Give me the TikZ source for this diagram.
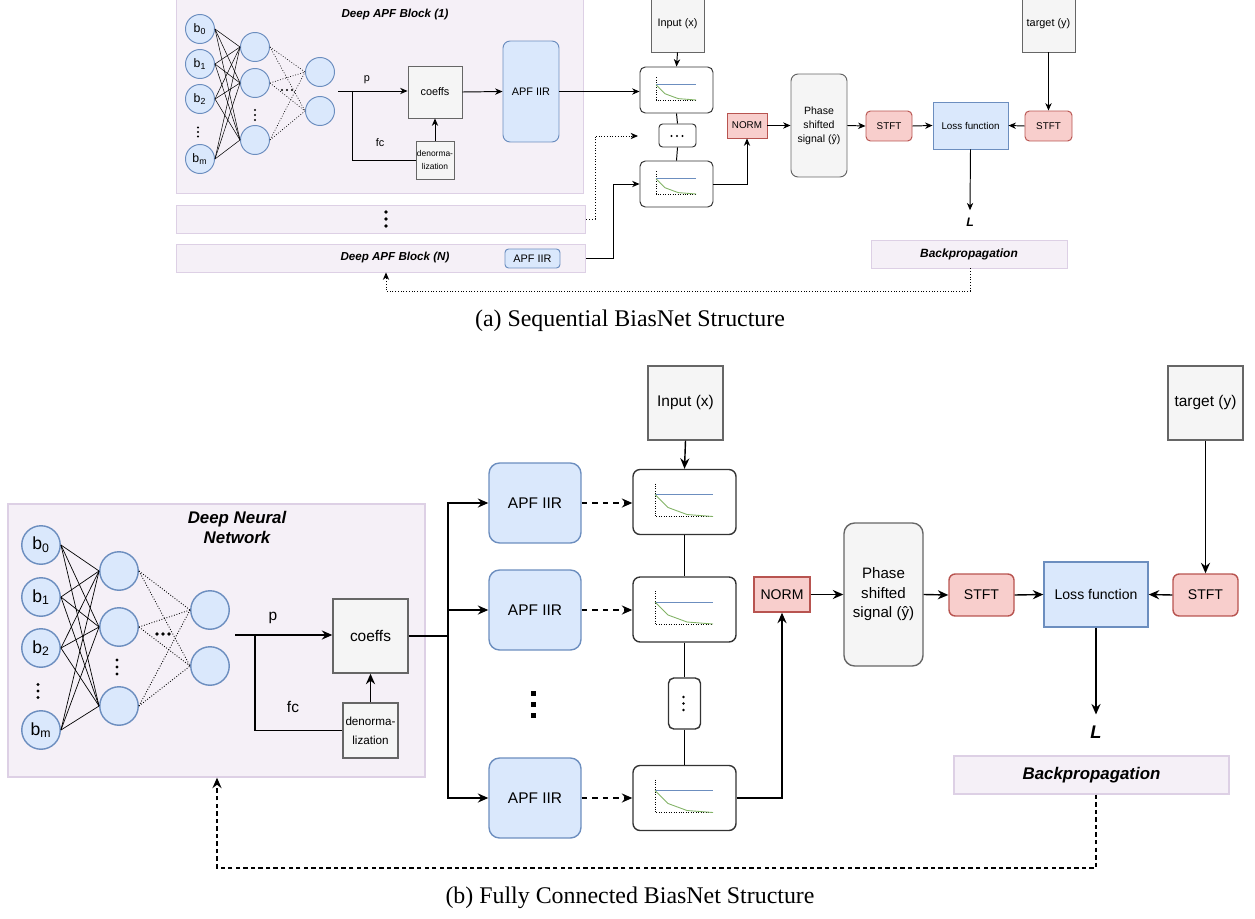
\documentclass[tikz,border=0pt]{standalone}
\usepackage{fontspec}
\setmainfont{Liberation Sans}
\newfontfamily\capfont{Liberation Serif}
\usetikzlibrary{arrows.meta}

\definecolor{blkfill}{HTML}{F5F0F7}
\definecolor{blkdraw}{HTML}{DDD0E5}
\definecolor{bluefill}{HTML}{DAE8FC}
\definecolor{bluedraw}{HTML}{6C8EBF}
\definecolor{redfill}{HTML}{F8CECC}
\definecolor{reddraw}{HTML}{B85450}
\definecolor{grayfill}{HTML}{F5F5F5}
\definecolor{graydraw}{HTML}{666666}
\definecolor{respdraw}{HTML}{333333}
\definecolor{greenline}{HTML}{82B366}

% little response sketch inside a filter box
\newcommand{\respplot}[2]{%
  \begin{scope}[shift={(#1.center)}, scale=#2]
    \draw[densely dotted, line width=0.4pt] (-29.5,-18.5) -- (-29.5,14.5) -- (28.5,14.5);
    \draw[bluedraw, line width=0.5pt] (-29.5,-7.5) -- (28.5,-7.5);
    \draw[greenline, line width=0.5pt] (-29.5,-7.5) -- (-16.5,5.5) -- (2.5,12.5) -- (28.5,14.5);
  \end{scope}}
% three dots, vertical or horizontal
\newcommand{\vdotsat}[4]{\foreach \k in {-1,0,1} {\fill (#1,#2+\k*#3) circle (#4);}}
\newcommand{\hdotsat}[4]{\foreach \k in {-1,0,1} {\fill (#1+\k*#3,#2) circle (#4);}}

\begin{document}
\begin{tikzpicture}[x=0.02cm, y=-0.02cm,
    neuron/.style={circle, draw=bluedraw, fill=bluefill, inner sep=0pt},
    blockbg/.style={draw=blkdraw, fill=blkfill, inner sep=0pt},
    graybox/.style={draw=graydraw, fill=grayfill, inner sep=1pt, align=center},
    apfbox/.style={draw=bluedraw, fill=bluefill, inner sep=0pt},
    respbox/.style={draw=respdraw, fill=white, inner sep=0pt},
    redbox/.style={draw=reddraw, fill=redfill, inner sep=0pt},
    nnline/.style={line width=0.4pt},
    nndot/.style={line width=0.5pt, densely dotted},
    arrA/.style={-{Stealth[length=4.2pt, width=3.6pt, inset=1.3pt]}},
    arrB/.style={-{Stealth[length=6pt, width=5.2pt, inset=2pt]}},
    fbline/.style={dash pattern=on 2.5pt off 1.8pt}
  ]
  \useasboundingbox (0,0) rectangle (1255,919);

  % ---------------- (a) sequential ----------------
  \begin{scope}[font=\fontsize{6.2}{7.6}\selectfont, line width=0.55pt]
    % blocks
    \node[blockbg, minimum width=8.16cm, minimum height=4cm] (blk1) at (380,94) {};
    \node[blockbg, minimum width=8.2cm, minimum height=0.56cm] (rowdots) at (381,219) {};
    \node[blockbg, minimum width=8.2cm, minimum height=0.56cm] (blkN) at (381,258) {};
    \node[font=\fontsize{6.6}{8}\selectfont\bfseries\itshape] (title1) at (395,15) {Deep APF Block (1)};
    \node[font=\fontsize{6.6}{8}\selectfont\bfseries\itshape] (titleN) at (395,258) {Deep APF Block (N)};
    \node[apfbox, rounded corners=2pt, minimum width=1.1cm, minimum height=0.38cm] (apfN) at (532.5,258.5) {APF IIR};
    \vdotsat{386}{219}{7}{1.1pt}

    % network
    \node[neuron, minimum size=0.58cm, font=\fontsize{7}{8}\selectfont] (b0) at (200,29) {b\textsubscript{0}};
    \node[neuron, minimum size=0.58cm, font=\fontsize{7}{8}\selectfont] (b1) at (200,64) {b\textsubscript{1}};
    \node[neuron, minimum size=0.58cm, font=\fontsize{7}{8}\selectfont] (b2) at (200,99) {b\textsubscript{2}};
    \node[neuron, minimum size=0.58cm, font=\fontsize{7}{8}\selectfont] (bm) at (200,159) {b\textsubscript{m}};
    \node[neuron, minimum size=0.58cm] (h1) at (255,47) {};
    \node[neuron, minimum size=0.58cm] (h2) at (255,83) {};
    \node[neuron, minimum size=0.58cm] (h3) at (255,140) {};
    \node[neuron, minimum size=0.58cm] (o1) at (320,72) {};
    \node[neuron, minimum size=0.58cm] (o2) at (320,111) {};
    \vdotsat{198}{132}{4.5}{0.7pt}
    \vdotsat{255}{115}{5}{0.7pt}
    \hdotsat{287}{90}{5}{0.7pt}
    \foreach \i in {b0,b1,b2,bm}
      \foreach \j in {h1,h2,h3}
        \draw[nnline, line width=0.3pt] (\i.east) -- (\j.west);
    \foreach \i in {h1,h2,h3}
      \foreach \j in {o1,o2}
        \draw[nndot, line width=0.35pt] (\i.east) -- (\j.west);

    \node[graybox, minimum width=1.08cm, minimum height=1.04cm] (coeffs1) at (435,92) {coeffs};
    \node[graybox, minimum width=0.76cm, minimum height=0.76cm, inner sep=0.5pt,
          font=\fontsize{4.8}{7.2}\selectfont] (den1) at (435,160) {denorma-\\lization};
    \node[apfbox, rounded corners=4pt, minimum width=1.12cm, minimum height=2.02cm] (apf1) at (531,91.5) {APF IIR};
    \node (plab1) at (367,80) {p};
    \node (fclab1) at (380,143) {fc};
    \coordinate (p1s) at (338,91);
    \coordinate (br1) at (352,91);
    \draw[arrA] (p1s) -- (p1s -| coeffs1.west);
    \draw (br1) |- (den1.west);
    \draw[arrA] (den1.north) -- (coeffs1.south);
    \draw[arrA] (coeffs1.east) -- (apf1.west);

    % filters and loss
    \node[graybox, minimum width=1.06cm, minimum height=1.12cm] (inA) at (677.5,24) {Input (x)};
    \node[respbox, rounded corners=3pt, minimum width=1.46cm, minimum height=0.92cm] (resp1a) at (676.5,90) {};
    \node[respbox, rounded corners=2pt, minimum width=0.74cm, minimum height=0.46cm] (dotsA) at (677.5,135.5) {};
    \node[respbox, rounded corners=3pt, minimum width=1.46cm, minimum height=0.92cm] (resp2a) at (676.5,184) {};
    \respplot{resp1a}{0.69}
    \respplot{resp2a}{0.69}
    \hdotsat{677}{136}{5.5}{0.6pt}
    \node[redbox, minimum width=0.8cm, minimum height=0.5cm, font=\fontsize{5.6}{7}\selectfont] (normA) at (747,125.5) {NORM};
    \node[graybox, rounded corners=4pt, minimum width=1.12cm, minimum height=2.06cm, font=\fontsize{6}{8}\selectfont] (phaseA) at (819,125.5) {Phase\\shifted\\signal (ŷ)};
    \node[redbox, rounded corners=2.5pt, minimum width=0.92cm, minimum height=0.6cm, font=\fontsize{5.6}{7}\selectfont] (stftA) at (889,126) {STFT};
    \node[apfbox, minimum width=1.5cm, minimum height=0.94cm, font=\fontsize{5.6}{7}\selectfont] (lossA) at (970.5,125.5) {Loss function};
    \node[redbox, rounded corners=2.5pt, minimum width=0.94cm, minimum height=0.6cm, font=\fontsize{5.6}{7}\selectfont] (stft2A) at (1048.5,126) {STFT};
    \node[graybox, minimum width=1.06cm, minimum height=1.12cm] (tgtA) at (1048.5,24) {target (y)};
    \node[font=\fontsize{7}{8}\selectfont\bfseries\itshape, inner sep=4pt] (LA) at (970,222) {L};
    \node[blockbg, minimum width=3.92cm, minimum height=0.56cm, font=\fontsize{6.8}{8}\selectfont\bfseries\itshape] (backA) at (969,254) {Backpropagation};

    \draw[arrA] (apf1.east) -- (apf1.east -| resp1a.west);
    \draw[arrA] (inA.south) -- (resp1a.north);
    \draw (resp1a.south) -- (dotsA.north);
    \draw (dotsA.south) -- (resp2a.north);
    \coordinate (dA) at (595,136);
    \coordinate (dAend) at (638,136);
    \draw[fbline, arrA, densely dotted] (rowdots.east) -| (dA) -- (dAend);
    \coordinate (nA) at (613,258);
    \draw[arrA] (blkN.east) -- (nA) |- (resp2a.west);
    \draw[arrA] (resp2a.east) -| (normA.south);
    \draw[arrA] (normA.east) -- (phaseA.west);
    \draw[arrA] (phaseA.east) -- (stftA.west);
    \draw[arrA] (stftA.east) -- (lossA.west);
    \draw[arrA] (stft2A.west) -- (lossA.east);
    \draw[arrA] (tgtA.south) -- (stft2A.north);
    \draw[arrA] (lossA.south) -- (LA.north);
    \coordinate (fbA1) at (970,291);
    \coordinate (fbA2) at (386,291);
    \draw[arrA, densely dotted] (backA.south -| fbA1) -- (fbA1) -- (fbA2) -- (fbA2 |- blkN.south);
  \end{scope}

  \node[font=\capfont\fontsize{13.6}{16}\selectfont, anchor=base] (capa) at (630,326) {(a) Sequential BiasNet Structure};

  % ---------------- (b) fully connected ----------------
  \begin{scope}[font=\fontsize{8.8}{11}\selectfont, line width=0.8pt]
    \node[blockbg, minimum width=8.34cm, minimum height=5.46cm] (dnn) at (216.5,640.5) {};
    \node[align=center, font=\fontsize{9.6}{11.4}\selectfont\bfseries\itshape] (title2) at (237,527) {Deep Neural\\Network};

    % network
    \node[neuron, minimum size=0.77cm, font=\fontsize{10}{12}\selectfont] (B0) at (41,545) {b\textsubscript{0}};
    \node[neuron, minimum size=0.77cm, font=\fontsize{10}{12}\selectfont] (B1) at (41,597) {b\textsubscript{1}};
    \node[neuron, minimum size=0.77cm, font=\fontsize{10}{12}\selectfont] (B2) at (41,648) {b\textsubscript{2}};
    \node[neuron, minimum size=0.77cm, font=\fontsize{10}{12}\selectfont] (Bm) at (41,730) {b\textsubscript{m}};
    \node[neuron, minimum size=0.77cm] (H1) at (119,571) {};
    \node[neuron, minimum size=0.77cm] (H2) at (119,627) {};
    \node[neuron, minimum size=0.77cm] (H3) at (119,706) {};
    \node[neuron, minimum size=0.77cm] (O1) at (210,610) {};
    \node[neuron, minimum size=0.77cm] (O2) at (210,666) {};
    \vdotsat{38}{691}{6.5}{0.9pt}
    \vdotsat{117}{667}{7}{0.9pt}
    \hdotsat{163}{634}{6}{1pt}
    \foreach \i in {B0,B1,B2,Bm}
      \foreach \j in {H1,H2,H3}
        \draw[nnline] (\i.east) -- (\j.west);
    \foreach \i in {H1,H2,H3}
      \foreach \j in {O1,O2}
        \draw[nndot] (\i.east) -- (\j.west);

    \node[graybox, minimum width=1.5cm, minimum height=1.48cm] (coeffs) at (370.5,636) {coeffs};
    \node[graybox, minimum width=1.1cm, minimum height=1.1cm, inner sep=0.5pt,
          font=\fontsize{6.65}{11}\selectfont] (den) at (370.5,730.5) {denorma-\\lization};
    \node (plab) at (273,618) {p};
    \node (fclab) at (293,707) {fc};
    \coordinate (ps) at (235,635);
    \coordinate (br) at (255,635);
    \draw[arrB] (ps) -- (ps -| coeffs.west);
    \draw (br) |- (den.west);
    \draw[arrB] (den.north) -- (coeffs.south);

    % parallel filters
    \node[apfbox, rounded corners=6pt, minimum width=1.84cm, minimum height=1.6cm] (apfB1) at (535,503) {APF IIR};
    \node[apfbox, rounded corners=6pt, minimum width=1.84cm, minimum height=1.6cm] (apfB2) at (535,610) {APF IIR};
    \node[apfbox, rounded corners=6pt, minimum width=1.84cm, minimum height=1.6cm] (apfB3) at (535,798) {APF IIR};
    \foreach \k in {-1,0,1} {\fill (530.5,701.5+\k*11) rectangle +(5,5);}
    \coordinate (bus) at (448,636);
    \draw (coeffs.east) -- (bus);
    \draw[arrB] (bus) |- (apfB1.west);
    \draw[arrB] (bus) |- (apfB2.west);
    \draw[arrB] (bus) |- (apfB3.west);

    \node[graybox, minimum width=1.5cm, minimum height=1.48cm] (inB) at (685.5,403) {Input (x)};
    \node[respbox, rounded corners=4pt, minimum width=2.06cm, minimum height=1.3cm] (R1) at (684.5,502) {};
    \node[respbox, rounded corners=4pt, minimum width=2.06cm, minimum height=1.3cm] (R2) at (684.5,609.5) {};
    \node[respbox, rounded corners=3pt, minimum width=0.64cm, minimum height=1.02cm] (Rd) at (684.5,703.5) {};
    \node[respbox, rounded corners=4pt, minimum width=2.06cm, minimum height=1.3cm] (R3) at (684.5,798) {};
    \respplot{R1}{1}
    \respplot{R2}{1}
    \respplot{R3}{1}
    \vdotsat{683.5}{703.5}{6.5}{0.8pt}
    \draw[arrB, dashed] (apfB1.east) -- (apfB1.east -| R1.west);
    \draw[arrB, dashed] (apfB2.east) -- (apfB2.east -| R2.west);
    \draw[arrB, dashed] (apfB3.east) -- (apfB3.east -| R3.west);
    \draw[arrB] (inB.south) -- (R1.north);
    \draw (R1.south) -- (R2.north);
    \draw (R2.south) -- (Rd.north);
    \draw (Rd.south) -- (R3.north);

    % loss part
    \node[redbox, minimum width=1.12cm, minimum height=0.7cm, font=\fontsize{8}{10}\selectfont] (normB) at (782,594.5) {NORM};
    \node[graybox, rounded corners=6pt, minimum width=1.58cm, minimum height=2.86cm, font=\fontsize{8.6}{11.1}\selectfont] (phaseB) at (883.5,594.5) {Phase\\shifted\\signal (ŷ)};
    \node[redbox, rounded corners=3.5pt, minimum width=1.3cm, minimum height=0.84cm, font=\fontsize{8}{10}\selectfont] (stftB) at (981.5,595) {STFT};
    \node[apfbox, minimum width=2.08cm, minimum height=1.3cm, font=\fontsize{8}{10}\selectfont] (lossB) at (1096,594.5) {Loss function};
    \node[redbox, rounded corners=3.5pt, minimum width=1.3cm, minimum height=0.84cm, font=\fontsize{8}{10}\selectfont] (stft2B) at (1205.5,595) {STFT};
    \node[graybox, minimum width=1.5cm, minimum height=1.48cm] (tgtB) at (1205.5,403) {target (y)};
    \node[font=\fontsize{10.4}{12}\selectfont\bfseries\itshape, inner sep=6pt] (LB) at (1096,732) {L};
    \node[blockbg, minimum width=5.5cm, minimum height=0.76cm, font=\fontsize{9.6}{11}\selectfont\bfseries\itshape] (backB) at (1091.5,775) {Backpropagation};

    \draw[arrB] (R3.east) -| (normB.south);
    \draw[arrB] (normB.east) -- (phaseB.west);
    \draw[arrB] (phaseB.east) -- (stftB.west);
    \draw[arrB] (stftB.east) -- (lossB.west);
    \draw[arrB] (stft2B.west) -- (lossB.east);
    \draw[arrB] (tgtB.south) -- (stft2B.north);
    \draw[arrB] (lossB.south) -- (LB.north);
    \coordinate (fbB1) at (1096,868);
    \coordinate (fbB2) at (217,868);
    \draw[arrB, fbline] (backB.south -| fbB1) -- (fbB1) -- (fbB2) -- (fbB2 |- dnn.south);
  \end{scope}

  \node[font=\capfont\fontsize{13.6}{16}\selectfont, anchor=base] (capb) at (630,903) {(b) Fully Connected BiasNet Structure};
\end{tikzpicture}
\end{document}
